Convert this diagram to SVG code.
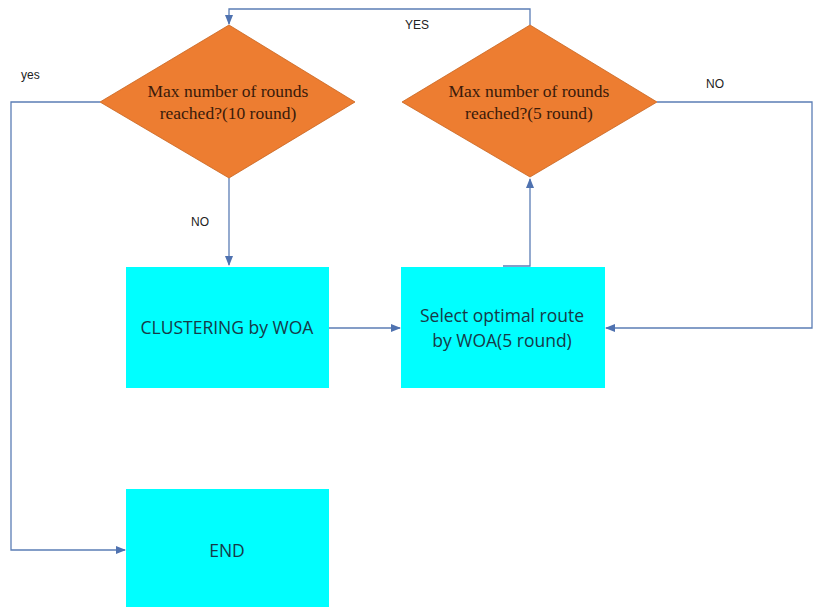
<svg xmlns="http://www.w3.org/2000/svg" width="813" height="607" viewBox="0 0 813 607">
<defs>
<style>
.dia{fill:#ED7D31;stroke:#C8651F;stroke-width:0.8}
.box{fill:#00FFFF}
.dt{font-family:"Liberation Serif",serif;font-size:17.5px;fill:#3a1a0a;text-anchor:middle}
.bt{font-family:"Open Sans","Liberation Sans",sans-serif;font-size:17.5px;fill:#173a48;text-anchor:middle}
.lb{font-family:"Liberation Sans",sans-serif;font-size:12px;fill:#222}
.ln{fill:none;stroke:#5B7DB5;stroke-width:1.3}
</style>
<marker id="ah" markerWidth="10" markerHeight="10" refX="9" refY="5" orient="auto" markerUnits="userSpaceOnUse">
<path d="M0,1 L10,5 L0,9 Z" fill="#4F72B0"/>
</marker>
</defs>
<rect width="813" height="607" fill="#fff"/>
<g id="connectors">
<path class="ln" d="M530,25 V9 H229 V24" marker-end="url(#ah)"/>
<path class="ln" d="M100,102 H11 V550 H125" marker-end="url(#ah)"/>
<path class="ln" d="M229,178 V265" marker-end="url(#ah)"/>
<path class="ln" d="M329,328 H400" marker-end="url(#ah)"/>
<path class="ln" d="M503,266 H530 V179" marker-end="url(#ah)"/>
<path class="ln" d="M657,102 H812 V328 H606" marker-end="url(#ah)"/>
</g>
<g id="labels">
<text class="lb" x="405" y="29">YES</text>
<text class="lb" x="21" y="79">yes</text>
<text class="lb" x="706" y="88">NO</text>
<text class="lb" x="191" y="226">NO</text>
</g>
<g id="decision1">
<polygon class="dia" points="229,25 355,102 229,178 100,102"/>
<text class="dt" x="228" y="97">Max number of rounds</text>
<text class="dt" x="228" y="119">reached?(10 round)</text>
</g>
<g id="decision2">
<polygon class="dia" points="530,25 657,102 530,177 402,102"/>
<text class="dt" x="529" y="97">Max number of rounds</text>
<text class="dt" x="529" y="119">reached?(5 round)</text>
</g>
<g id="clustering">
<rect class="box" x="126" y="267" width="203" height="121"/>
<text class="bt" x="227" y="334">CLUSTERING by WOA</text>
</g>
<g id="select">
<rect class="box" x="401" y="267" width="204" height="121"/>
<text class="bt" x="502" y="322">Select optimal route</text>
<text class="bt" x="502" y="347">by WOA(5 round)</text>
</g>
<g id="end">
<rect class="box" x="126" y="489" width="203" height="118"/>
<text class="bt" x="227" y="557">END</text>
</g>
</svg>
